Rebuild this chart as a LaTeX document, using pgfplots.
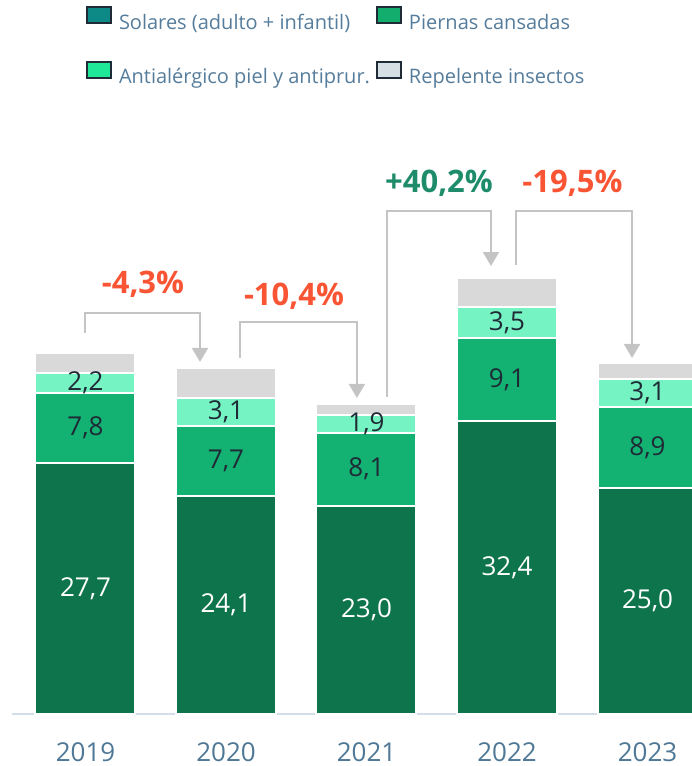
\documentclass[border=0pt]{standalone}
\usepackage{fontspec}
\setmainfont{Open Sans}
\usepackage{pgfplots}
\pgfplotsset{compat=1.18}
\usepackage{pgfplotstable}
\usetikzlibrary{arrows.meta}

\definecolor{solarBar}{HTML}{0E744B}
\definecolor{piernasBar}{HTML}{13B273}
\definecolor{antiBar}{HTML}{76F3C2}
\definecolor{repBar}{HTML}{D9D9D9}
\definecolor{solarLeg}{HTML}{0E8A86}
\definecolor{piernasLeg}{HTML}{13AE6E}
\definecolor{antiLeg}{HTML}{1FE899}
\definecolor{repLeg}{HTML}{D6DFE4}
\definecolor{legBorder}{HTML}{1F2B36}
\definecolor{legText}{HTML}{557C9B}
\definecolor{tickText}{HTML}{4F7896}
\definecolor{axisLine}{HTML}{D3DEE8}
\definecolor{valDark}{HTML}{1E2A36}
\definecolor{arrowC}{HTML}{C4C4C4}
\definecolor{redC}{HTML}{F95535}
\definecolor{greenC}{HTML}{1E8C6A}

\pgfplotstableread{
x y lab
0 27.7 27,7
1 24.1 24,1
2 23.0 23,0
3 32.4 32,4
4 25.0 25,0
}\solares
\pgfplotstableread{
x y lab
0 7.8 7,8
1 7.7 7,7
2 8.1 8,1
3 9.1 9,1
4 8.9 8,9
}\piernas
\pgfplotstableread{
x y lab
0 2.2 2,2
1 3.1 3,1
2 1.9 1,9
3 3.5 3,5
4 3.1 3,1
}\anti
\pgfplotstableread{
x y
0 2.2
1 3.3
2 1.3
3 3.2
4 1.8
}\repelente

\pgfplotsset{
  vallab/.style={
    nodes near coords={\pgfplotspointmeta},
    point meta=explicit symbolic,
    every node near coord/.append style={anchor=center, font=\fontsize{26}{30}\selectfont, text=#1},
  }
}

\begin{document}
\begin{tikzpicture}
\useasboundingbox (0,0) rectangle (692pt,766pt);
\begin{axis}[
  at={(12pt,52pt)}, anchor=south west,
  x=140.5pt, y=9.05pt,
  xmin=-0.5231, xmax=4.3167, ymin=0, ymax=78.9,
  ybar stacked, bar width=100pt,
  axis x line=bottom, axis y line=none,
  x axis line style={draw=axisLine, line width=2pt, -},
  xtick={0,1,2,3,4}, xticklabels={2019,2020,2021,2022,2023},
  major tick length=0pt,
  xticklabel style={anchor=base, yshift=-47pt, inner sep=0pt, text depth=0pt, text=tickText, font=\fontsize{26}{30}\selectfont},
  clip=true,
  legend columns=2,
  legend cell align=left,
  legend style={draw=none, fill=none, inner sep=0pt, outer sep=0pt,
    at={(axis cs:0.0036,78.2)}, anchor=north west,
    font=\fontsize{20}{24}\selectfont, text=legText,
    row sep=30pt,
    nodes={inner sep=0pt},
    /tikz/every odd column/.append style={column sep=7pt},
    /tikz/every even column/.append style={column sep=6pt}},
  legend image code/.code={\draw[#1, draw=legBorder, line width=2pt] (0pt,-1pt) rectangle (24pt,15pt);},
]
\addlegendimage{fill=solarLeg}
\addlegendentry{Solares (adulto + infantil)}
\addlegendimage{fill=piernasLeg}
\addlegendentry{Piernas cansadas}
\addlegendimage{fill=antiLeg}
\addlegendentry{Antialérgico piel y antiprur.}
\addlegendimage{fill=repLeg}
\addlegendentry{Repelente insectos}

\addplot[fill=solarBar, draw=white, line width=2pt, vallab=white, forget plot] table[x=x, y=y, meta=lab] {\solares};
\addplot[fill=piernasBar, draw=white, line width=2pt, vallab=valDark, forget plot] table[x=x, y=y, meta=lab] {\piernas};
\addplot[fill=antiBar, draw=white, line width=2pt, vallab=valDark, forget plot] table[x=x, y=y, meta=lab] {\anti};
\addplot[fill=repBar, draw=white, line width=2pt, forget plot] table[x=x, y=y] {\repelente};

\tikzset{arr/.style={draw=arrowC, line width=2pt, -{Triangle[width=16pt,length=14pt]}}}
\draw[arr] (0,42.10) |- (0.815,44.31) -- (0.815,38.90);
\draw[arr] (1.0997,39.34) |- (1.932,43.31) -- (1.932,34.92);
\draw[arr] (2.146,35.03) |- (2.886,55.58) -- (2.886,49.50);
\draw[arr] (3.064,49.61) |- (3.890,55.58) -- (3.890,39.34);

\tikzset{pct/.style={anchor=base, font=\bfseries\fontsize{31}{36}\selectfont}}
\node[pct, text=redC] at (0.409,46.41) {-4,3\%};
\node[pct, text=redC] at (1.484,45.19) {-10,4\%};
\node[pct, text=greenC] at (2.516,57.57) {+40,2\%};
\node[pct, text=redC] at (3.466,57.57) {-19,5\%};
\end{axis}
\end{tikzpicture}
\end{document}
